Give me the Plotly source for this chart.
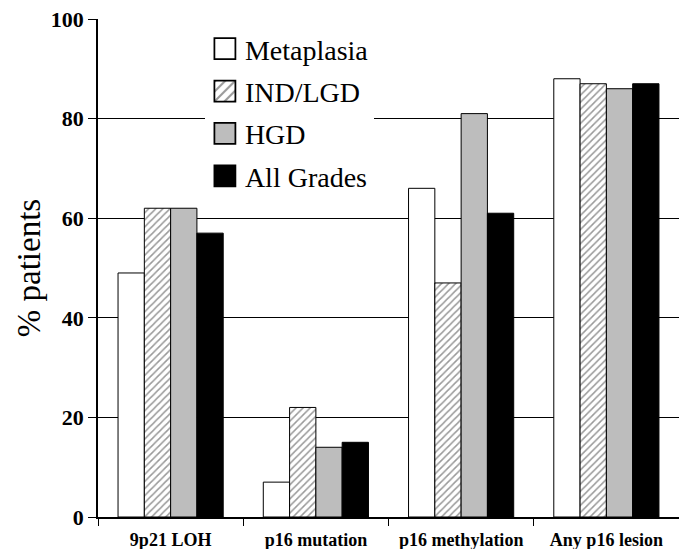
import plotly.graph_objects as go

categories = ["9p21 LOH", "p16 mutation", "p16 methylation", "Any p16 lesion"]
series_names = ["Metaplasia", "IND/LGD", "HGD", "All Grades"]
metaplasia = [49, 7, 66, 88]
ind_lgd = [62, 22, 47, 87]
hgd = [62, 14, 81, 86]
all_grades = [57, 15, 61, 87]
y_ticks = [0, 20, 40, 60, 80, 100]

SERIF = "Liberation Serif"

fig = go.Figure()
styles = [
    dict(color="white"),
    dict(color="white", pattern=dict(shape="/", fgcolor="#333333", bgcolor="white", size=5, solidity=0.3)),
    dict(color="#bdbdbd"),
    dict(color="black"),
]
for name, vals, st in zip(series_names, [metaplasia, ind_lgd, hgd, all_grades], styles):
    fig.add_trace(go.Bar(
        x=categories, y=vals, name=name,
        marker=dict(line=dict(color="black", width=1), **st),
        legendgroup=name,
    ))

fig.update_layout(
    width=679, height=549,
    margin=dict(l=98, r=0, t=19, b=32, autoexpand=False),
    paper_bgcolor="white", plot_bgcolor="white",
    barmode="group", bargap=0.276, bargroupgap=0,
    font=dict(family=SERIF, color="black"),
    showlegend=True,
    legend=dict(
        x=0.184, y=0.99, xanchor="left", yanchor="top",
        bgcolor="white", borderwidth=0,
        font=dict(family=SERIF, size=28, color="black"),
        traceorder="grouped", tracegroupgap=3,
        itemwidth=30,
    ),
    xaxis=dict(
        automargin=False,
        showline=True, linecolor="black", linewidth=2,
        ticks="outside", tickson="boundaries", ticklen=7, tickcolor="black",
        tickfont=dict(family=SERIF, size=18, color="black", weight="bold"),
        ticklabelstandoff=5,
        showgrid=False, range=[-0.5, 3.5],
    ),
    yaxis=dict(
        automargin=False,
        range=[0, 100], tickvals=y_ticks,
        showline=True, linecolor="black", linewidth=1.5,
        ticks="outside", ticklen=8, tickcolor="black",
        tickfont=dict(family=SERIF, size=22, color="black", weight="bold"),
        showgrid=True, gridcolor="black", gridwidth=1,
        zeroline=False,
        title=dict(text="% patients", font=dict(family=SERIF, size=33, color="black"), standoff=0),
    ),
)

post = """
document.body.style.margin = '0';
var gd = document.getElementById('{plot_id}');
gd.querySelectorAll('.legendpoints path').forEach(function(p){
  var t = p.getAttribute('transform') || '';
  p.setAttribute('transform', t + ' scale(1.75)');
});
"""
fig.write_html("out.html", post_script=post, config={"displayModeBar": False})
